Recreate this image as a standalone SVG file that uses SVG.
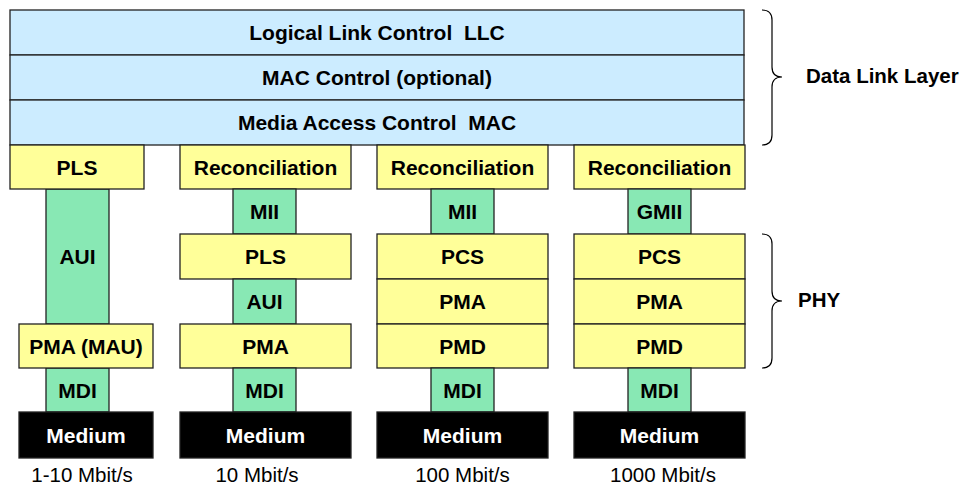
<svg xmlns="http://www.w3.org/2000/svg" width="964" height="487" viewBox="0 0 964 487">
<style>
rect{stroke:#222;stroke-width:1.3}
.b{fill:#CCECFF}.y{fill:#FFFF99}.g{fill:#88E8B4}.k{fill:#000}
text{font-family:"Liberation Sans",Arial,sans-serif;font-weight:bold;font-size:21px;text-anchor:middle;fill:#000;white-space:pre}
.w{fill:#fff}
.n{font-weight:normal;font-size:20.5px}
.l{text-anchor:start;font-size:20.5px}
.br{fill:none;stroke:#000;stroke-width:1.2}
</style>
<rect width="964" height="487" fill="#fff" style="stroke:none"/>
<g id="llc"><rect class="b" x="10" y="10" width="734" height="45"/><text x="377" y="40" xml:space="preserve">Logical Link Control  LLC</text></g>
<g id="macctl"><rect class="b" x="10" y="55" width="734" height="45"/><text x="377" y="85">MAC Control (optional)</text></g>
<g id="mac"><rect class="b" x="10" y="100" width="734" height="45"/><text x="377" y="130" xml:space="preserve">Media Access Control  MAC</text></g>

<g id="c1-aui"><rect class="g" x="46" y="189" width="63" height="135"/><text x="77.5" y="263.5">AUI</text></g>
<g id="c1-pls"><rect class="y" x="10" y="145" width="134" height="44"/><text x="77" y="175">PLS</text></g>
<g id="c1-mdi"><rect class="g" x="46" y="368" width="63" height="44"/><text x="77.5" y="397.5">MDI</text></g>
<g id="c1-pma"><rect class="y" x="19" y="324" width="134" height="44"/><text x="86" y="353.5">PMA (MAU)</text></g>
<g id="c1-med"><rect class="k" x="19" y="412" width="134" height="46"/><text class="w" x="86" y="443">Medium</text></g>

<g id="c2-rec"><rect class="y" x="180" y="145" width="171" height="44"/><text x="265.5" y="175">Reconciliation</text></g>
<g id="c2-mii"><rect class="g" x="233" y="189" width="63" height="45"/><text x="264.5" y="219">MII</text></g>
<g id="c2-pls"><rect class="y" x="180" y="234" width="171" height="45"/><text x="265.5" y="264">PLS</text></g>
<g id="c2-aui"><rect class="g" x="233" y="279" width="63" height="45"/><text x="264.5" y="309">AUI</text></g>
<g id="c2-pma"><rect class="y" x="180" y="324" width="171" height="44"/><text x="265.5" y="353.5">PMA</text></g>
<g id="c2-mdi"><rect class="g" x="233" y="368" width="63" height="44"/><text x="264.5" y="397.5">MDI</text></g>
<g id="c2-med"><rect class="k" x="180" y="412" width="171" height="46"/><text class="w" x="265.5" y="443">Medium</text></g>

<g id="c3-rec"><rect class="y" x="377" y="145" width="171" height="44"/><text x="462.5" y="175">Reconciliation</text></g>
<g id="c3-mii"><rect class="g" x="431" y="189" width="63" height="45"/><text x="462.5" y="219">MII</text></g>
<g id="c3-pcs"><rect class="y" x="377" y="234" width="171" height="45"/><text x="462.5" y="264">PCS</text></g>
<g id="c3-pma"><rect class="y" x="377" y="279" width="171" height="45"/><text x="462.5" y="309">PMA</text></g>
<g id="c3-pmd"><rect class="y" x="377" y="324" width="171" height="44"/><text x="462.5" y="353.5">PMD</text></g>
<g id="c3-mdi"><rect class="g" x="431" y="368" width="63" height="44"/><text x="462.5" y="397.5">MDI</text></g>
<g id="c3-med"><rect class="k" x="377" y="412" width="171" height="46"/><text class="w" x="462.5" y="443">Medium</text></g>

<g id="c4-rec"><rect class="y" x="574" y="145" width="171" height="44"/><text x="659.5" y="175">Reconciliation</text></g>
<g id="c4-gmii"><rect class="g" x="628" y="189" width="63" height="45"/><text x="659.5" y="219">GMII</text></g>
<g id="c4-pcs"><rect class="y" x="574" y="234" width="171" height="45"/><text x="659.5" y="264">PCS</text></g>
<g id="c4-pma"><rect class="y" x="574" y="279" width="171" height="45"/><text x="659.5" y="309">PMA</text></g>
<g id="c4-pmd"><rect class="y" x="574" y="324" width="171" height="44"/><text x="659.5" y="353.5">PMD</text></g>
<g id="c4-mdi"><rect class="g" x="628" y="368" width="63" height="44"/><text x="659.5" y="397.5">MDI</text></g>
<g id="c4-med"><rect class="k" x="574" y="412" width="171" height="46"/><text class="w" x="659.5" y="443">Medium</text></g>

<g id="speeds">
<text class="n" x="82" y="482">1-10 Mbit/s</text>
<text class="n" x="257" y="482">10 Mbit/s</text>
<text class="n" x="462.5" y="482">100 Mbit/s</text>
<text class="n" x="663" y="482">1000 Mbit/s</text>
</g>

<g id="connectors">
<path class="br" d="M762,10 Q772,10 772,20 L772,67 Q772,77 782,77 Q772,77 772,87 L772,135 Q772,145 762,145"/>
<path class="br" d="M762,234 Q772,234 772,244 L772,291 Q772,301 782,301 Q772,301 772,311 L772,358 Q772,368 762,368"/>
</g>
<g id="labels">
<text class="l" x="806" y="83">Data Link Layer</text>
<text class="l" x="798" y="307">PHY</text>
</g>
</svg>
